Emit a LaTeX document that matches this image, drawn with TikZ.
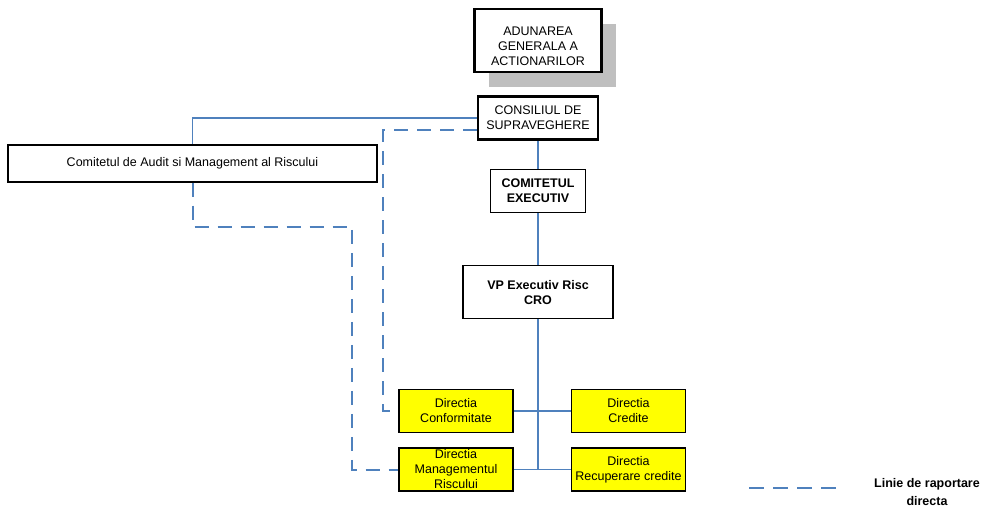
\documentclass[tikz,border=0pt]{standalone}
\usepackage{fontspec}
\setmainfont{Liberation Sans}
\usepackage{xcolor}
\usepackage{tikz}
\definecolor{linkblue}{RGB}{79, 129, 189}
\definecolor{diryellow}{RGB}{255, 255, 0}
\newcommand{\chartfont}{\fontsize{12.5}{15}\selectfont}
\usetikzlibrary{positioning, shadows}

\begin{document}
\begin{tikzpicture}[
    x=1pt, y=1pt,
    headbox/.style={rectangle, draw=black, line width=2.5pt, fill=white,
                align=center, inner sep=2pt, font=\chartfont},
    plainbox/.style={rectangle, draw=black, line width=1.2pt, fill=white,
                align=center, inner sep=2pt, font=\chartfont},
    dirbox/.style={rectangle, draw=black, line width=1.5pt, fill=diryellow,
                minimum width=114pt, minimum height=43pt, align=center,
                inner xsep=2pt, inner ysep=0.5pt, font=\chartfont},
    link/.style={linkblue, line width=1.5pt},
    dashlink/.style={linkblue, line width=2pt, dash pattern=on 14pt off 9pt}
]
    \useasboundingbox (0,0) rectangle (984,-509);

    % main column
    \node[headbox, minimum width=127pt, minimum height=63pt,
          drop shadow={shadow xshift=14pt, shadow yshift=-15pt, fill=black!25, opacity=1}]
          (adunare) at (538,-40.5) {\rule{0pt}{21pt}ADUNAREA\\GENERALA A\\ACTIONARILOR};
    \node[headbox, minimum width=120pt, minimum height=43pt, below=22pt of adunare] (consiliu) {CONSILIUL DE\\SUPRAVEGHERE};
    \node[plainbox, font=\chartfont\bfseries, minimum width=95pt, minimum height=43pt, below=28pt of consiliu] (comitet) {COMITETUL\\EXECUTIV};
    \node[plainbox, font=\chartfont\bfseries, minimum width=150pt, minimum height=53pt, below=52pt of comitet] (vp) {VP Executiv Risc\\CRO};
    \node[plainbox, minimum width=369pt, minimum height=37pt] (audit) at (192.5,-163.5) {Comitetul de Audit si Management al Riscului};

    % directii
    \node[dirbox] (conf) at (456,-411) {Directia\\Conformitate};
    \node[dirbox, right=57pt of conf] (credite) {Directia\\Credite};
    \node[dirbox, below=14pt of conf] (mgmt) {Directia\\Managementul\\Riscului};
    \node[dirbox, right=57pt of mgmt] (recup) {Directia\\Recuperare credite};
    \coordinate (hub) at (vp.south |- mgmt.east);

    \draw[link] (consiliu.west) -| (audit.north);
    \draw[link] (consiliu) -- (comitet);
    \draw[link] (comitet) -- (vp);
    \draw[link] (vp) -- (hub);
    \draw[link] (conf) -- (credite);
    \draw[link] (mgmt) -- (recup);

    \draw[dashlink] (audit.south) -- ++(0,-44) -| ([xshift=-46pt]mgmt.west) -- (mgmt.west);
    \draw[dashlink] ([yshift=-11.5pt]consiliu.west) -| ([xshift=-15pt]conf.west) -- (conf.west);

    % legenda
    \coordinate (legA) at (749,-488);
    \coordinate (legB) at (836,-488);
    \draw[dashlink, line width=2.5pt, dash pattern=on 15pt off 9pt] (legA) -- (legB);
    \node[font=\fontsize{12.5}{18}\selectfont\bfseries, align=center] (legtext) at (927,-492) {Linie de raportare\\directa};
\end{tikzpicture}
\end{document}
